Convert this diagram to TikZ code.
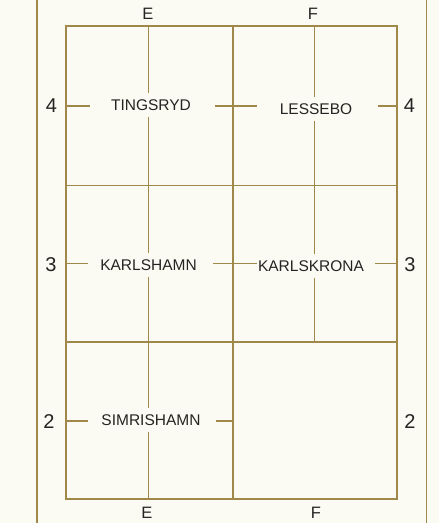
\documentclass[tikz,border=0pt]{standalone}
\usepackage{fontspec}
\setmainfont{Liberation Sans}
\usepackage{xcolor}
\usepackage{tikz}
\definecolor{MapPaper}{HTML}{FBFAF3}
\definecolor{MapGold}{HTML}{A0884A}
\definecolor{MapInk}{HTML}{262422}

\begin{document}
\begin{tikzpicture}[
  x=1pt, y=-1pt,
  grid/.style={draw=MapGold, line width=1.4pt},
  frame/.style={draw=MapGold, line width=1.5pt},
  town/.style={text=MapInk, inner xsep=0pt, inner ysep=6pt, font=\fontsize{15.5}{18}\selectfont},
  colref/.style={text=MapInk, inner sep=0pt, font=\fontsize{16.5}{20}\selectfont},
  rowref/.style={text=MapInk, inner sep=0pt, font=\fontsize{20}{24}\selectfont}
]
  \fill[MapPaper] (0,0) rectangle (439,523);
  \useasboundingbox (0,0) rectangle (439,523);

  % outer frame
  \draw[frame] (37,0) -- (37,523);
  \draw[frame] (426.5,0) -- (426.5,523);

  % sheet names
  \node[town] (tingsryd) at (151,105) {TINGSRYD};
  \node[town] (lessebo) at (316,109) {LESSEBO};
  \node[town] (karlshamn) at (148.5,265) {KARLSHAMN};
  \node[town] (karlskrona) at (311,266) {KARLSKRONA};
  \node[town] (simrishamn) at (151,420) {SIMRISHAMN};

  % column and row references
  \node[colref] (etop) at (148,14) {E};
  \node[colref] (ftop) at (313,14) {F};
  \node[colref] (ebot) at (147,513) {E};
  \node[colref] (fbot) at (316,513) {F};
  \node[rowref] (l4) at (51.5,106) {4};
  \node[rowref] (l3) at (51,265) {3};
  \node[rowref] (l2) at (49,421.5) {2};
  \node[rowref] (r4) at (409.5,106) {4};
  \node[rowref] (r3) at (410,265) {3};
  \node[rowref] (r2) at (410,421.5) {2};

  % sheet grid
  \draw[grid] (66,26) rectangle (397,499);
  \draw[grid] (66,185.5) -- (397,185.5);
  \draw[grid] (66,342) -- (397,342);
  \draw[grid] (233,26) -- (233,499);

  % E line
  \coordinate (e1) at (148.5,26);
  \coordinate (e2) at (148.5,499);
  \draw[grid] (e1) -- (e1 |- tingsryd.north);
  \draw[grid] (e1 |- tingsryd.south) -- (e1 |- karlshamn.north);
  \draw[grid] (e1 |- karlshamn.south) -- (e1 |- simrishamn.north);
  \draw[grid] (e1 |- simrishamn.south) -- (e2);

  % F line
  \coordinate (f1) at (314.5,26);
  \coordinate (f2) at (314.5,342);
  \draw[grid] (f1) -- (f1 |- lessebo.north);
  \draw[grid] (f1 |- lessebo.south) -- (f1 |- karlskrona.north);
  \draw[grid] (f1 |- karlskrona.south) -- (f2);

  % row ticks
  \draw[grid] (66,106) -- (90,106);
  \draw[grid] (215,106) -- (256.5,106);
  \draw[grid] (378,106) -- (397,106);
  \draw[grid] (66,263.5) -- (88,263.5);
  \draw[grid] (213,263.5) -- (257,263.5);
  \draw[grid] (375,263.5) -- (397,263.5);
  \draw[grid] (66,421) -- (88,421);
  \draw[grid] (216,421) -- (233,421);
\end{tikzpicture}
\end{document}
